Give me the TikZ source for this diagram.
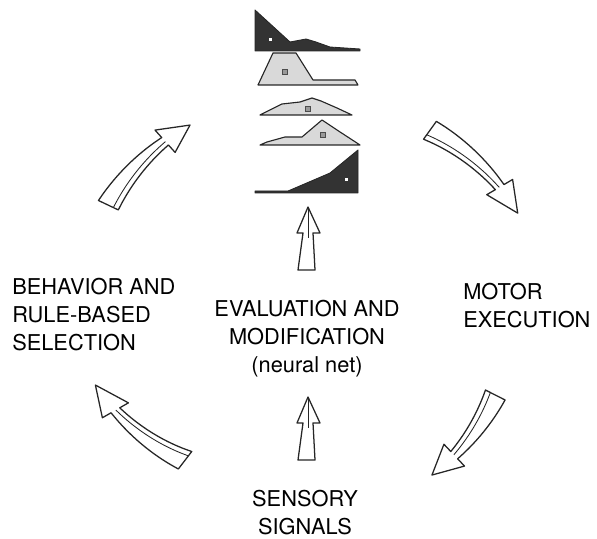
\documentclass[tikz,border=0pt]{standalone}
\usepackage{fontspec}
\setmainfont{TeX Gyre Heros}
\usepackage{tikz}
\usetikzlibrary{positioning}

\tikzset{
    label/.style={inner sep=0pt, font=\fontsize{15.5}{19.9}\selectfont},
    bentline/.style={draw=black!85, line width=0.9pt, fill=white, line join=round},
    innerline/.style={draw=black!85, line width=0.6pt},
    profdark/.style={draw=black!85, fill=black!80, line width=0.6pt, line join=round},
    proflight/.style={draw=black!85, fill=black!15, line width=0.8pt, line join=round},
}

% hollow curved arrow: tail angle, span, tail radius, tip radius
\newcommand{\bentarrow}[4]{%
    \pgfmathsetmacro{\tipang}{#1-#2}
    \pgfmathsetmacro{\baseang}{#1-#2+8}
    \pgfmathsetmacro{\baserad}{#3+(#4-#3)*(#2-8)/#2}
    \draw[bentline] plot[smooth, domain=#1:\baseang, samples=10]
            (\x:{#3+(#4-#3)*(#1-\x)/#2 + 11-6*(#1-\x)/(#2-8)})
        -- (\baseang:{\baserad+15})
        -- (\tipang:#4)
        -- (\baseang:{\baserad-15})
        -- plot[smooth, domain=\baseang:#1, samples=10]
            (\x:{#3+(#4-#3)*(#1-\x)/#2 - 11+6*(#1-\x)/(#2-8)})
        -- cycle;
    \draw[innerline] plot[smooth, domain=#1:\baseang, samples=10]
            (\x:{#3+(#4-#3)*(#1-\x)/#2 - 5.5+5*(#1-\x)/(#2-8)});
}

\begin{document}
\begin{tikzpicture}[x=0.025cm, y=0.025cm]
        \useasboundingbox (0,0) rectangle (597,538);
        \coordinate (ctr) at (308,238);

        \node[label, anchor=north west, align=left] at (12,260)  (behav) {BEHAVIOR AND\\RULE-BASED\\SELECTION};
        \node[label, anchor=north, align=center]    at (307,238) (evalu) {EVALUATION AND\\MODIFICATION\\(neural net)};
        \node[label, anchor=north west, align=left] at (463,255) (motor) {MOTOR\\EXECUTION};
        \node[label, anchor=north, align=center]    at (305,48)  (sensory) {SENSORY\\SIGNALS};

        % curved arrows round the cycle
        \begin{scope}[shift={(ctr)}]
            \bentarrow{54.3}{31.8}{209}{227}
            \bentarrow{-26.9}{27.8}{210}{214.5}
            \bentarrow{-127.5}{30.7}{202}{229}
            \bentarrow{154.6}{30.6}{221}{211}
        \end{scope}

        % straight arrows
        \draw[bentline] (308,331) -- (320,305) -- (313,305) -- (315,268) -- (298,268) -- (303,305) -- (297,305) -- cycle;
        \draw[innerline] (308,331) -- (308,300);
        \draw[bentline] (308,141) -- (320,115) -- (313,115) -- (315,78) -- (298,78) -- (303,115) -- (297,115) -- cycle;
        \draw[innerline] (308,141) -- (308,110);

        % profiles
        \draw[proflight] (258,453) -- (273,485) -- (296,485) -- (313,458) -- (355,458) -- (358,453) -- cycle;
        \draw[profdark] (255,528) -- (290,496) -- (306,499) -- (316,496) -- (330,491) -- (360,489) -- (360,487) -- (255,487) -- cycle;
        \draw[proflight] (260,423) -- (282,434) -- (300,436) -- (312,440) -- (321,437) -- (337,430) -- (352,423) -- cycle;
        \draw[proflight] (260,393) -- (267,396) -- (285,401) -- (302,401) -- (322,418) -- (337,408) -- (360,393) -- cycle;
        \draw[profdark] (255,347) -- (288,347) -- (330,365) -- (358,388) -- (358,345) -- (255,345) -- cycle;

        \draw[fill=white, draw=none] (268.5,496.5) rectangle ++(3,3);
        \draw[fill=black!40, draw=black!70, line width=0.4pt] (282.5,463.5) rectangle ++(5,5);
        \draw[fill=black!40, draw=black!70, line width=0.4pt] (305.5,426.5) rectangle ++(5,5);
        \draw[fill=black!40, draw=black!70, line width=0.4pt] (320.5,400.5) rectangle ++(5,5);
        \draw[fill=white, draw=none] (344.5,356.5) rectangle ++(3,3);
\end{tikzpicture}
\end{document}
